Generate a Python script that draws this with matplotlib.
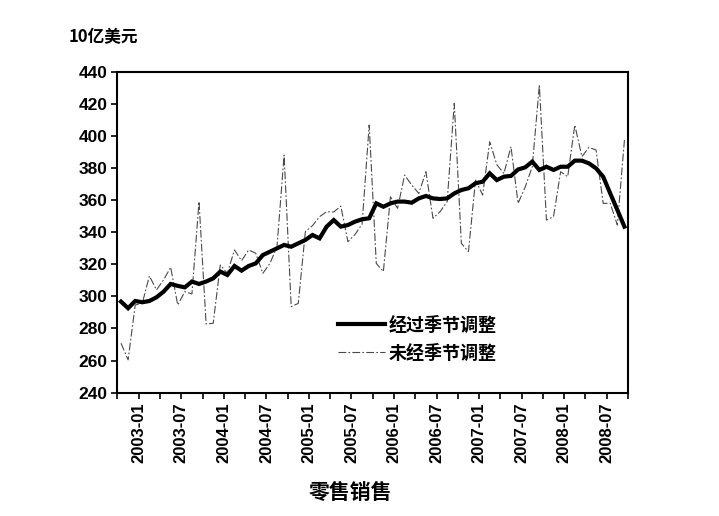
import numpy as np
import matplotlib
matplotlib.use("Agg")
import matplotlib.pyplot as plt
from matplotlib import font_manager as fm

# ---- data (billions USD, monthly, 2003-01 .. 2008-12) ----
adjusted = [296.7, 292.6, 297.1, 296.3, 297.1, 299.4, 302.9, 307.7, 306.5, 305.6, 309.2, 307.7,
            309.2, 311.2, 315.4, 313.3, 318.9, 316.0, 318.9, 320.5, 325.7, 327.8, 329.9, 332.0,
            330.9, 333.0, 335.1, 338.2, 336.1, 343.4, 347.5, 343.4, 344.4, 346.5, 348.0, 348.6,
            357.9, 355.8, 357.9, 359.0, 359.0, 358.3, 361.0, 362.5, 361.0, 360.6, 361.0, 364.1,
            366.2, 367.3, 370.4, 371.4, 376.6, 372.4, 374.5, 375.0, 379.0, 380.3, 383.9, 378.7,
            380.7, 378.7, 380.7, 380.7, 384.5, 384.5, 382.8, 379.7, 374.5, 364.1, 353.8, 343.4]
unadjusted = [270.8, 260.4, 294.6, 295.7, 312.7, 304.0, 310.2, 318.1, 294.6, 302.9, 301.5, 359.0,
              282.8, 283.2, 319.5, 314.4, 328.9, 322.2, 328.9, 326.8, 314.3, 320.5, 330.9, 388.0,
              293.6, 295.6, 340.3, 344.0, 349.6, 352.7, 352.5, 356.2, 334.0, 338.5, 345.0, 406.7,
              320.5, 315.4, 362.0, 354.8, 375.5, 369.3, 364.1, 377.6, 348.6, 352.7, 359.0, 420.2,
              333.0, 327.8, 372.4, 363.1, 396.3, 382.0, 376.5, 393.2, 357.9, 368.0, 380.7, 431.6,
              347.5, 349.6, 377.6, 374.5, 406.7, 387.0, 392.8, 391.1, 357.9, 357.9, 344.4, 397.3]
tick_labels = ["2003-01", "2003-07", "2004-01", "2004-07", "2005-01", "2005-07",
               "2006-01", "2006-07", "2007-01", "2007-07", "2008-01", "2008-07"]
series_names = ["经过季节调整", "未经季节调整"]
y_unit = "10亿美元"
x_title = "零售销售"

names = {f.name for f in fm.fontManager.ttflist}
num_font = "Liberation Sans Narrow" if "Liberation Sans Narrow" in names else "Liberation Sans"
cjk = ["Noto Sans CJK SC", "DejaVu Sans"]

fig = plt.figure(figsize=(7.19, 5.16), dpi=100)
ax = fig.add_axes([0.1634, 0.2390, 0.7100, 0.6224])

x = np.arange(len(adjusted)) + 0.5
ax.plot(x, unadjusted, color="#4a4a4a", lw=0.8, linestyle=(0, (7, 2, 1.5, 2)),
        label=series_names[1], zorder=2)
ax.plot(x, adjusted, color="black", lw=3.0, solid_joinstyle="miter",
        label=series_names[0], zorder=3)

ax.set_xlim(0, len(adjusted))
ax.set_ylim(240, 440)
ax.set_yticks(np.arange(240, 441, 20))
xt = np.arange(0, len(adjusted) + 1, 3)
ax.set_xticks(xt)
lab_iter = iter(tick_labels)
xlabs = []
for k in range(len(xt)):
    xlabs.append(next(lab_iter) if k % 2 == 1 else "")
ax.set_xticklabels(xlabs, rotation=90, fontfamily=num_font, fontweight="bold", fontsize=12)
ax.tick_params(axis="x", length=4, width=1.2, direction="out", pad=3)
ax.tick_params(axis="y", length=4, width=1.2, direction="out", pad=3)
for lab in ax.get_yticklabels():
    lab.set_fontfamily(num_font)
    lab.set_fontweight("bold")
    lab.set_fontsize(12.5)
for s in ax.spines.values():
    s.set_linewidth(1.5)

handles, labels = ax.get_legend_handles_labels()
leg = ax.legend(handles[::-1], labels[::-1], loc="upper left",
                bbox_to_anchor=(0.40, 0.29), frameon=False, handlelength=2.6,
                handletextpad=0.2, labelspacing=0.5,
                prop=fm.FontProperties(family=cjk, weight="bold", size=13))

fig.text(0.095, 0.928, y_unit, fontsize=12, fontweight="bold", family=cjk,
         ha="left", va="center")
fig.text(0.487, 0.045, x_title, fontsize=15, fontweight="bold", family=cjk,
         ha="center", va="center")

fig.savefig("out.png", dpi=100, facecolor="white")
